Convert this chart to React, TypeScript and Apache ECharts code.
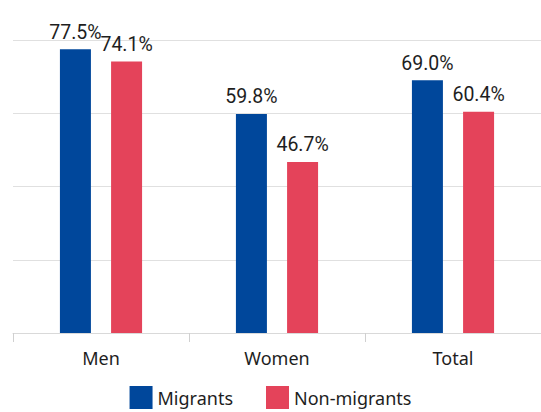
import React, { useEffect, useRef } from "react";
import * as echarts from "echarts";

const categories = ["Men", "Women", "Total"];
const seriesNames = ["Migrants", "Non-migrants"];
const migrants = [77.5, 59.8, 69.0];
const nonMigrants = [74.1, 46.7, 60.4];
const yTicks = { min: 0, max: 80, interval: 20 };

const COLORS = ["#00479B", "#E4435A"];
const LABEL_FONT = "Roboto, 'Noto Sans', sans-serif";
const TEXT_FONT = "'Noto Sans', 'Open Sans', sans-serif";

export default function App() {
  const ref = useRef<HTMLDivElement>(null);
  useEffect(() => {
    if (!ref.current) return;
    const chart = echarts.init(ref.current, null, { renderer: "svg" });
    const mkSeries = (name: string, data: number[], color: string) => ({
      name,
      type: "bar",
      data,
      barWidth: 31,
      barGap: "65%",
      itemStyle: { color },
      label: {
        show: true,
        position: "top",
        distance: 7,
        formatter: (p: any) => Number(p.value).toFixed(1) + "%",
        fontFamily: LABEL_FONT,
        fontSize: 19.5,
        color: "#1e1e1e",
      },
    });
    chart.setOption({
      animation: false,
      textStyle: { fontFamily: TEXT_FONT },
      grid: { left: 13, top: 40, width: 532.5, height: 293, containLabel: false },
      legend: {
        data: seriesNames,
        left: "center",
        top: 386,
        padding: 0,
        itemWidth: 23,
        itemHeight: 23,
        itemGap: 33,
        icon: "rect",
        textStyle: { fontFamily: TEXT_FONT, fontSize: 18, color: "#1e1e1e" },
      },
      xAxis: {
        type: "category",
        data: categories,
        axisLine: { lineStyle: { color: "#d9d9d9", width: 1 } },
        axisTick: { show: true, length: 9, lineStyle: { color: "#d0d0d0" } },
        axisLabel: { fontFamily: TEXT_FONT, fontSize: 18, color: "#1e1e1e", margin: 16 },
      },
      yAxis: {
        type: "value",
        min: yTicks.min,
        max: yTicks.max,
        interval: yTicks.interval,
        axisLabel: { show: false },
        axisLine: { show: false },
        axisTick: { show: false },
        splitLine: { lineStyle: { color: "#e0e0e0", width: 1 } },
      },
      series: [
        mkSeries(seriesNames[0], migrants, COLORS[0]),
        mkSeries(seriesNames[1], nonMigrants, COLORS[1]),
      ],
    });
    return () => chart.dispose();
  }, []);
  return (
    <div
      ref={ref}
      style={{ position: "absolute", left: 0, top: 0, width: 541, height: 412 }}
    />
  );
}
